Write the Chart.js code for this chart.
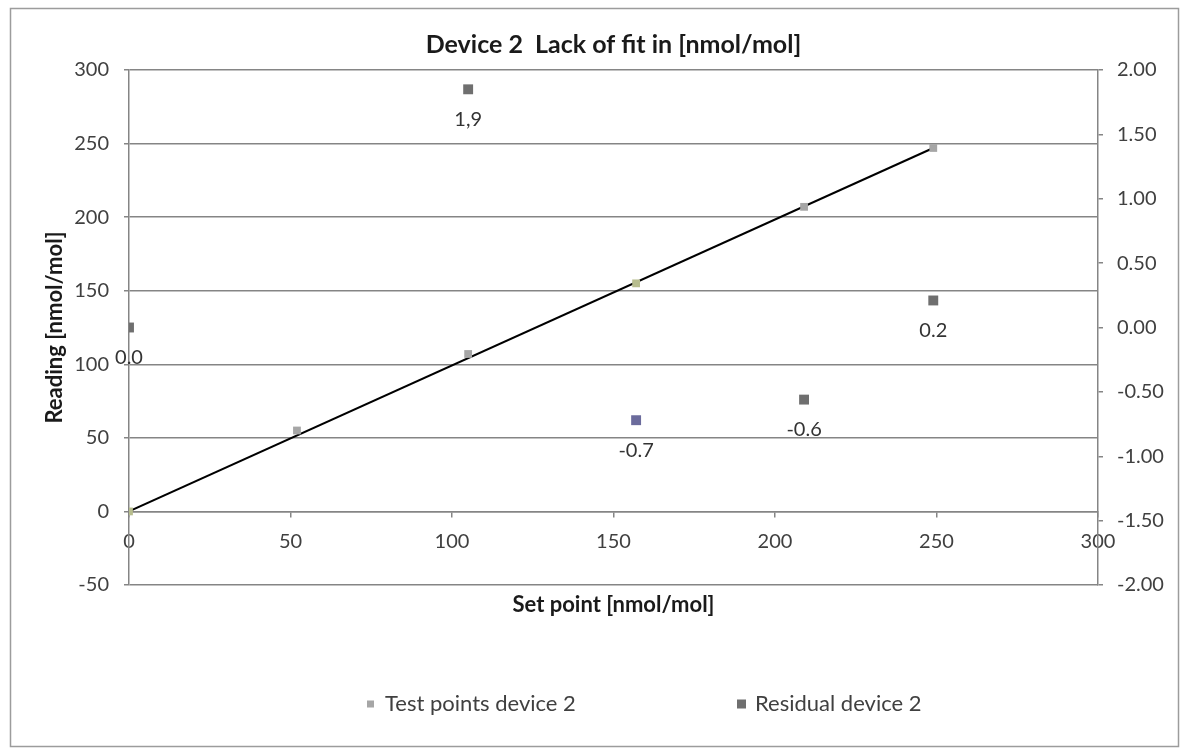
<!DOCTYPE html>
<html>
<head>
<meta charset="utf-8">
<script src="https://cdn.jsdelivr.net/npm/chart.js@4.4.1/dist/chart.umd.min.js"></script>
<style>
    html, body { margin: 0; padding: 0; background: #fff; }
    #wrap { width: 1186px; height: 753px; position: relative; }
</style>
</head>
<body>
<div id="wrap"><canvas id="chart"></canvas></div>
<script>
// ---------- DATA ----------
const setPoints = [0, 52, 105, 157, 209, 249];
const readings = [0, 55, 107, 155, 207, 247];

const residualX = [0, 105, 157, 209, 249];
const residualY = [0.0, 1.85, -0.72, -0.56, 0.21];
const residualLabels = ["0.0", "1,9", "-0.7", "-0.6", "0.2"];

const fitX = [0, 249];
const fitY = [0, 247];

const leftTicks = [-50, 0, 50, 100, 150, 200, 250, 300];
const rightTicks = [-2, -1.5, -1, -0.5, 0, 0.5, 1, 1.5, 2];
const xTicks = [0, 50, 100, 150, 200, 250, 300];

const seriesNames = ["Test points device 2", "Residual device 2"];

// ---------- STYLE ----------
const FONT = "Lato, 'Open Sans', sans-serif";
const gridGray = "#858585";
const textGray = "#404040";
const testColor = ["#b7bd8e", "#a6a6a6", "#a6a6a6", "#b7bd8e", "#a6a6a6", "#a6a6a6"];
const residColor = ["#6f6f6f", "#6f6f6f", "#6b6b9c", "#6f6f6f", "#6f6f6f"];

// ---------- PLUGINS ----------
const frame = {
    id: "frame",
    beforeDraw(chart) {
        const ctx = chart.ctx;
        ctx.save();
        ctx.fillStyle = "#fff";
        ctx.fillRect(0, 0, chart.width, chart.height);
        ctx.strokeStyle = "#9c9c9c";
        ctx.lineWidth = 1.5;
        ctx.strokeRect(10.5, 8.5, 1168, 738);
        ctx.restore();
    }
};

const residualText = {
    id: "residualText",
    afterDatasetsDraw(chart) {
        const meta = chart.getDatasetMeta(1);
        const ctx = chart.ctx;
        ctx.save();
        ctx.font = `20px ${FONT}`;
        ctx.fillStyle = "#333";
        ctx.textAlign = "center";
        ctx.textBaseline = "middle";
        meta.data.forEach((pt, i) => {
            ctx.fillText(residualLabels[i], pt.x, pt.y + 30);
        });
        ctx.restore();
    }
};

const bottomLegend = {
    id: "bottomLegend",
    afterDraw(chart) {
        const ctx = chart.ctx;
        const y = 704;
        const items = [
            { x: 367, size: 7, color: "#a6a6a6", text: seriesNames[0] },
            { x: 737, size: 9, color: "#6f6f6f", text: seriesNames[1] }
        ];
        ctx.save();
        ctx.font = `22px ${FONT}`;
        ctx.textBaseline = "middle";
        ctx.textAlign = "left";
        items.forEach(it => {
            ctx.fillStyle = it.color;
            ctx.fillRect(it.x, y - it.size / 2, it.size, it.size);
            ctx.fillStyle = textGray;
            ctx.fillText(it.text, it.x + 18, y);
        });
        ctx.restore();
    }
};

// ---------- CHART ----------
new Chart(document.getElementById("chart"), {
    type: "scatter",
    data: {
        datasets: [
            {
                label: seriesNames[0],
                data: setPoints.map((x, i) => ({ x, y: readings[i] })),
                pointStyle: "rect",
                pointRadius: 5.5,
                backgroundColor: testColor,
                borderColor: testColor,
                borderWidth: 0,
                yAxisID: "y",
                order: 1
            },
            {
                label: seriesNames[1],
                data: residualX.map((x, i) => ({ x, y: residualY[i] })),
                pointStyle: "rect",
                pointRadius: 7,
                backgroundColor: residColor,
                borderColor: residColor,
                borderWidth: 0,
                yAxisID: "y1",
                order: 0
            },
            {
                label: "fit",
                data: fitX.map((x, i) => ({ x, y: fitY[i] })),
                showLine: true,
                borderColor: "#000",
                borderWidth: 2,
                pointRadius: 0,
                yAxisID: "y",
                order: 2
            }
        ]
    },
    options: {
        responsive: true,
        maintainAspectRatio: false,
        animation: false,
        layout: { padding: { left: 0, right: 0, top: 0, bottom: 135 } },
        plugins: {
            legend: { display: false },
            tooltip: { enabled: false },
            title: {
                display: true,
                fullSize: false,
                text: "Device 2  Lack of fit in [nmol/mol]",
                color: "#1a1a1a",
                font: { family: FONT, size: 25, weight: "bold" },
                padding: { top: 30, bottom: 10 }
            }
        },
        scales: {
            x: {
                type: "linear",
                position: { y: 0 },
                min: 0,
                max: 300,
                afterBuildTicks: s => { s.ticks = xTicks.map(v => ({ value: v })); },
                grid: { display: true, drawOnChartArea: false, drawTicks: true, tickLength: 5, color: gridGray, lineWidth: 1.5 },
                border: { display: true, color: gridGray, width: 1.5 },
                ticks: { color: textGray, font: { family: FONT, size: 20 }, padding: 13, maxRotation: 0 }
            },
            x2: {
                type: "linear",
                position: "bottom",
                afterFit: s => { s.height = 33; },
                grid: { display: false },
                border: { display: false },
                ticks: { display: false },
                title: {
                    display: true,
                    text: "Set point [nmol/mol]",
                    color: "#1a1a1a",
                    font: { family: FONT, size: 22, weight: "bold" },
                    padding: 0
                }
            },
            y: {
                type: "linear",
                position: "left",
                min: -50,
                max: 300,
                afterFit: s => { s.width = 129; },
                afterBuildTicks: s => { s.ticks = leftTicks.map(v => ({ value: v })); },
                grid: { color: gridGray, lineWidth: 1.5, drawTicks: true, tickLength: 5 },
                border: { display: true, color: gridGray, width: 1.5 },
                ticks: { color: textGray, font: { family: FONT, size: 20 }, padding: 15 },
                title: {
                    display: true,
                    text: "Reading [nmol/mol]",
                    color: "#1a1a1a",
                    font: { family: FONT, size: 22, weight: "bold" },
                    padding: { top: 42, bottom: 0 }
                }
            },
            y1: {
                type: "linear",
                position: "right",
                min: -2,
                max: 2,
                afterFit: s => { s.width = 88; },
                afterBuildTicks: s => { s.ticks = rightTicks.map(v => ({ value: v })); },
                grid: { drawOnChartArea: false, drawTicks: true, tickLength: 5, color: gridGray, lineWidth: 1.5 },
                border: { display: true, color: gridGray, width: 1.5 },
                ticks: {
                    color: textGray,
                    font: { family: FONT, size: 20 },
                    padding: 14,
                    callback: v => v.toFixed(2)
                }
            }
        }
    },
    plugins: [frame, residualText, bottomLegend]
});
</script>
</body>
</html>
